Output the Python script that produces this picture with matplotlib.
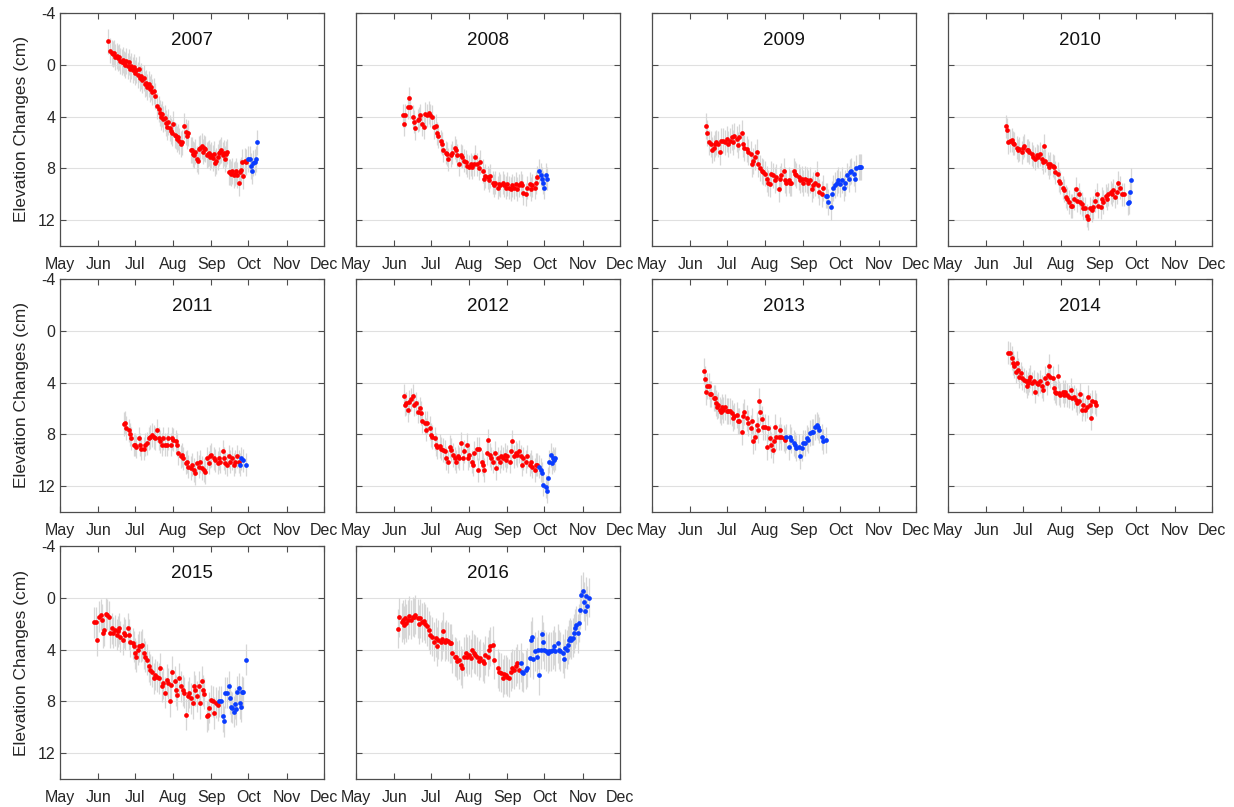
import matplotlib
matplotlib.use("Agg")
import matplotlib.pyplot as plt
import numpy as np

plt.rcParams["font.family"] = ["Liberation Sans", "DejaVu Sans"]
plt.rcParams["axes.unicode_minus"] = False

# Days are counted from 1 May (day 0); values are elevation change in cm
month_days = [0, 31, 61, 92, 123, 153, 184, 214]
month_labels = ["May", "Jun", "Jul", "Aug", "Sep", "Oct", "Nov", "Dec"]
y_ticks = [-4, 0, 4, 8, 12]

# --- 2007 ---
d2007_r = [39, 41, 42, 43, 44, 45, 46, 47, 48, 49,
           50, 51, 52, 53, 54, 55, 56, 57, 58, 59,
           60, 61, 62, 63, 64, 65, 66, 67, 68, 69,
           70, 71, 72, 73, 74, 75, 76, 77, 79, 80,
           81, 82, 83, 84, 85, 86, 87, 88, 89, 90,
           91, 92, 93, 94, 95, 96, 97, 98, 99, 101,
           102, 103, 104, 106, 107, 108, 109, 110, 111, 112,
           113, 114, 115, 116, 117, 118, 119, 120, 121, 122,
           123, 124, 125, 126, 127, 128, 129, 130, 131, 132,
           133, 134, 135, 136, 137, 138, 139, 140, 141, 142,
           143, 144, 145, 146, 147, 148, 149, 150, 151]
v2007_r = [-1.8, -1.1, -0.9, -0.8, -0.9, -0.6, -0.7, -0.5, -0.6, -0.3,
           -0.2, -0.4, -0.1, 0.0, -0.3, 0.1, -0.2, 0.3, 0.1, 0.4,
           0.2, 0.6, 0.4, 0.8, 0.3, 1.0, 0.9, 1.2, 1.0, 1.5,
           1.4, 1.7, 1.5, 1.9, 1.7, 2.1, 2.0, 2.4, 3.2, 3.4,
           3.7, 4.0, 3.8, 4.2, 4.1, 4.5, 4.8, 4.4, 4.9, 5.1,
           5.3, 4.6, 5.4, 5.5, 5.7, 5.6, 5.9, 6.1, 6.0, 4.7,
           5.2, 5.5, 5.3, 6.6, 6.6, 6.9, 7.0, 6.7, 7.3, 7.4,
           6.5, 6.4, 6.3, 6.7, 6.4, 6.5, 7.0, 6.9, 6.8, 7.1,
           7.0, 7.2, 6.9, 7.6, 7.4, 7.1, 6.8, 6.7, 6.6, 7.0,
           6.8, 7.3, 6.9, 6.7, 8.3, 8.3, 8.4, 8.2, 8.5, 8.4,
           8.2, 8.5, 9.1, 8.3, 8.1, 7.5, 8.6, 7.4, 7.5]
d2007_b = [153, 154, 155, 156, 157, 158, 159, 160]
v2007_b = [7.3, 7.3, 7.8, 8.2, 7.6, 7.5, 7.3, 6.0]
e2007 = 1.0

# --- 2008 ---
d2008_r = [38, 39, 40, 42, 43, 44, 46, 47, 48, 50,
           51, 52, 54, 55, 56, 58, 59, 60, 62, 63,
           65, 66, 67, 69, 70, 71, 73, 74, 75, 77,
           78, 80, 81, 82, 84, 85, 86, 88, 89, 90,
           92, 93, 94, 96, 97, 98, 100, 101, 103, 104,
           105, 107, 108, 109, 111, 112, 113, 115, 116, 117,
           119, 120, 122, 123, 124, 126, 127, 128, 130, 131,
           132, 134, 135, 136, 138, 139, 141, 142, 143, 145,
           146, 147]
v2008_r = [3.9, 4.6, 3.9, 3.3, 2.6, 3.3, 4.0, 4.4, 4.9, 4.3,
           4.2, 3.9, 4.6, 4.8, 3.8, 3.9, 3.7, 3.9, 4.0, 4.8,
           4.7, 5.3, 5.5, 5.9, 6.1, 6.6, 6.8, 6.9, 7.3, 7.0,
           6.8, 6.4, 6.6, 7.0, 7.7, 7.0, 7.1, 7.4, 7.5, 7.8,
           7.9, 7.7, 7.9, 7.7, 7.1, 7.7, 8.0, 7.5, 8.2, 8.8,
           8.6, 8.7, 8.9, 8.6, 9.1, 9.3, 9.1, 9.5, 9.2, 9.3,
           9.1, 9.3, 9.5, 9.2, 9.5, 9.6, 9.3, 9.5, 9.2, 9.6,
           9.3, 9.1, 9.3, 9.9, 10.0, 9.5, 9.2, 9.6, 9.3, 9.5,
           9.1, 8.7]
d2008_b = [149, 150, 151, 152, 153, 154, 155]
v2008_b = [8.2, 8.5, 8.8, 9.1, 9.5, 8.5, 8.8]
e2008 = 0.9

# --- 2009 ---
d2009_r = [44, 45, 46, 48, 49, 50, 51, 52, 54, 55,
           56, 58, 59, 61, 62, 63, 65, 66, 67, 69,
           70, 71, 73, 74, 75, 77, 78, 80, 81, 82,
           84, 85, 86, 88, 89, 90, 92, 93, 94, 96,
           97, 98, 100, 101, 103, 104, 105, 107, 108, 109,
           111, 112, 113, 115, 116, 117, 119, 120, 122, 123,
           124, 126, 127, 128, 130, 131, 132, 134, 135, 136,
           138, 139]
v2009_r = [4.7, 5.3, 6.0, 6.1, 6.6, 6.4, 6.1, 6.0, 6.1, 6.75,
           5.85, 5.85, 6.0, 5.7, 6.1, 5.85, 5.6, 6.0, 5.5, 5.7,
           6.2, 5.6, 5.3, 6.1, 6.4, 6.5, 6.75, 6.9, 7.7, 7.4,
           7.1, 6.75, 7.7, 8.0, 8.2, 8.3, 8.4, 8.8, 9.1, 9.2,
           8.4, 8.55, 8.9, 8.7, 9.6, 8.8, 8.55, 8.2, 8.9, 9.1,
           8.9, 9.1, 9.1, 8.2, 8.4, 8.55, 8.7, 8.9, 8.8, 9.1,
           8.8, 8.9, 9.1, 8.9, 9.6, 9.3, 9.1, 8.4, 9.3, 9.85,
           10.0, 9.5]
d2009_b = [141, 142, 143, 145, 146, 147, 149, 150, 151, 153,
           154, 156, 157, 158, 160, 161, 162, 164, 165, 166,
           168, 169, 170]
v2009_b = [10.1, 10.1, 10.6, 11.0, 10.0, 9.5, 9.3, 9.1, 8.9, 9.2,
           8.9, 9.5, 9.1, 8.55, 8.8, 8.3, 8.2, 8.4, 8.8, 8.0,
           7.9, 7.9, 7.9]
e2009 = 1.0

# --- 2010 ---
d2010_r = [47, 48, 49, 50, 52, 53, 54, 56, 57, 58,
           60, 61, 62, 64, 65, 66, 68, 69, 71, 72,
           73, 75, 76, 77, 78, 79, 81, 82, 83, 85,
           86, 87, 89, 90, 91, 93, 94, 96, 97, 98,
           100, 101, 102, 104, 105, 106, 107, 109, 110, 111,
           113, 114, 115, 117, 118, 119, 121, 122, 124, 125,
           126, 128, 129, 130, 132, 133, 134, 136, 137, 138,
           140, 141, 143]
v2010_r = [4.75, 5.0, 6.0, 5.85, 5.8, 6.05, 6.1, 6.4, 6.6, 6.5,
           6.75, 6.4, 6.25, 6.6, 6.6, 6.75, 6.9, 7.1, 7.25, 7.0,
           7.1, 6.9, 7.25, 7.5, 6.25, 7.4, 7.65, 7.9, 7.65, 7.8,
           7.9, 8.3, 8.4, 8.95, 9.1, 9.5, 9.7, 10.2, 10.35, 10.6,
           10.9, 10.9, 10.35, 9.6, 10.5, 10.0, 10.6, 10.75, 11.1, 11.1,
           11.65, 11.9, 11.1, 11.25, 11.0, 10.5, 10.0, 10.9, 11.0, 10.35,
           10.6, 10.1, 10.35, 10.0, 9.85, 10.0, 9.7, 10.2, 9.85, 9.1,
           9.5, 10.0, 10.0]
d2010_b = [146, 147, 148, 149]
v2010_b = [10.7, 10.6, 9.8, 8.9]
e2010 = 0.9

# --- 2011 ---
d2011_r = [52, 53, 54, 56, 57, 58, 60, 61, 62, 64,
           65, 66, 68, 69, 71, 72, 73, 75, 76, 77,
           79, 80, 81, 83, 84, 85, 87, 88, 90, 91,
           92, 94, 95, 96, 98, 99, 100, 102, 103, 104,
           106, 107, 109, 110, 111, 113, 114, 115, 117, 118,
           119, 121, 122, 123, 125, 126, 128, 129, 130, 132,
           133, 134, 136, 137, 138, 140, 141, 142, 144, 145]
v2011_r = [7.2, 7.1, 7.5, 7.7, 8.0, 8.3, 8.8, 8.8, 8.95, 8.3,
           8.8, 9.1, 9.1, 8.8, 8.7, 8.3, 8.2, 8.05, 8.2, 8.3,
           7.7, 8.3, 8.55, 8.8, 8.3, 8.8, 8.8, 8.3, 8.8, 8.3,
           8.4, 8.55, 8.8, 9.45, 9.7, 9.6, 9.85, 10.2, 10.1, 10.5,
           10.6, 10.35, 10.75, 11.0, 10.2, 10.5, 10.1, 10.6, 10.75, 10.9,
           9.85, 10.2, 9.7, 9.6, 9.85, 10.0, 10.2, 9.85, 10.1, 9.3,
           9.85, 10.2, 10.35, 9.7, 10.1, 9.85, 10.35, 10.1, 9.7, 10.1]
d2011_b = [146, 147, 149, 151]
v2011_b = [10.35, 9.85, 10.0, 10.35]
e2011 = 0.9

# --- 2012 ---
d2012_r = [39, 40, 41, 42, 43, 45, 46, 47, 49, 50,
           52, 53, 54, 56, 57, 58, 60, 61, 62, 64,
           65, 66, 68, 69, 71, 72, 73, 75, 76, 77,
           79, 80, 81, 83, 84, 85, 87, 88, 90, 91,
           92, 94, 95, 96, 98, 99, 100, 102, 103, 104,
           106, 107, 109, 110, 111, 113, 114, 115, 117, 118,
           119, 121, 122, 123, 125, 126, 127, 128, 130, 131,
           132, 134, 135, 136, 138, 139, 141, 142, 143, 145,
           146, 147]
v2012_r = [5.0, 5.7, 5.6, 6.15, 5.5, 5.3, 5.0, 5.7, 5.6, 6.25,
           6.0, 6.35, 7.0, 7.1, 7.65, 7.1, 7.5, 8.05, 8.2, 8.3,
           8.8, 9.0, 8.9, 9.1, 9.2, 9.3, 9.85, 10.1, 8.95, 9.2,
           9.6, 9.85, 10.1, 9.7, 9.85, 8.7, 9.85, 9.3, 8.8, 9.85,
           9.6, 10.1, 10.35, 9.45, 9.1, 10.75, 9.1, 10.1, 10.35, 10.75,
           9.45, 8.45, 9.6, 9.85, 10.1, 9.45, 10.6, 9.85, 10.1, 9.7,
           9.85, 9.6, 10.0, 9.7, 10.1, 9.3, 8.55, 9.7, 9.45, 9.6,
           9.3, 9.7, 10.35, 9.85, 10.1, 9.7, 10.35, 10.1, 10.5, 10.75,
           10.35, 10.35]
d2012_b = [149, 150, 151, 152, 154, 155, 156, 157, 158, 159, 160, 161, 162]
v2012_b = [10.5, 10.75, 11.0, 11.9, 12.05, 12.4, 11.4, 10.1, 9.6, 10.2,
           9.85, 10.0, 9.85]
e2012 = 0.9

# --- 2013 ---
d2013_r = [42, 43, 44, 45, 46, 47, 48, 50, 51, 52,
           53, 54, 55, 56, 57, 58, 59, 61, 62, 63,
           65, 66, 67, 69, 70, 71, 73, 74, 75, 77,
           78, 80, 81, 82, 84, 85, 86, 87, 88, 89,
           90, 92, 93, 94, 96, 97, 98, 99, 100, 101,
           103, 104, 105, 107, 108]
v2013_r = [3.1, 3.75, 4.7, 4.25, 4.25, 4.9, 4.85, 5.2, 5.2, 5.6,
           5.85, 5.7, 6.1, 6.25, 5.85, 6.1, 5.9, 6.2, 6.2, 6.2,
           6.35, 6.75, 6.6, 6.5, 7.0, 7.0, 7.8, 6.6, 6.25, 6.75,
           7.15, 7.5, 7.0, 8.55, 8.2, 7.25, 7.65, 5.45, 6.25, 6.8,
           7.4, 7.4, 8.95, 7.5, 8.3, 8.8, 9.2, 8.55, 7.4, 8.2,
           8.2, 7.65, 8.2, 8.3, 8.45]
d2013_b = [109, 111, 112, 113, 115, 116, 117, 119, 120, 122,
           123, 124, 126, 127, 128, 130, 131, 132, 134, 135,
           136, 138, 139, 141]
v2013_b = [8.2, 8.95, 8.2, 8.45, 8.7, 8.8, 9.05, 8.95, 9.7, 9.05,
           8.7, 8.7, 8.3, 8.45, 7.9, 7.8, 7.8, 7.4, 7.25, 7.4,
           7.65, 8.2, 8.55, 8.45]
e2013 = 1.0

# --- 2014 ---
d2014_r = [49, 50, 52, 53, 54, 55, 56, 57, 58, 59,
           60, 62, 63, 64, 65, 66, 67, 68, 70, 71,
           72, 73, 75, 76, 77, 79, 80, 81, 82, 83,
           85, 86, 87, 88, 89, 90, 91, 93, 94, 95,
           97, 98, 100, 101, 102, 104, 105, 106, 107, 109,
           110, 111, 113, 114, 115, 116, 117, 119, 120]
v2014_r = [1.7, 1.75, 2.1, 2.5, 2.75, 3.15, 2.5, 3.0, 3.55, 3.3,
           3.65, 3.8, 3.9, 4.3, 4.05, 3.8, 3.55, 4.05, 3.9, 4.7,
           4.05, 4.15, 3.9, 4.3, 4.55, 3.65, 4.05, 3.4, 2.7, 3.55,
           3.65, 4.45, 4.7, 4.8, 3.5, 4.8, 4.95, 4.7, 4.95, 4.7,
           4.95, 5.1, 4.55, 5.2, 5.1, 5.35, 5.6, 5.45, 4.9, 6.1,
           5.7, 6.1, 5.85, 5.1, 5.7, 6.75, 5.45, 5.5, 5.7]
d2014_b = []
v2014_b = []
e2014 = 0.9

# --- 2015 ---
d2015_r = [28, 29, 30, 32, 33, 34, 35, 36, 37, 38,
           40, 41, 42, 43, 45, 46, 47, 48, 49, 51,
           52, 53, 55, 56, 57, 59, 60, 61, 62, 63,
           64, 66, 67, 68, 69, 71, 72, 73, 75, 76,
           77, 79, 80, 81, 83, 84, 85, 87, 88, 89,
           90, 91, 93, 94, 95, 97, 98, 100, 101, 102,
           104, 105, 106, 108, 109, 110, 111, 113, 114, 115,
           116, 117, 119, 120, 121, 123, 124, 125, 127, 128]
v2015_r = [1.9, 1.9, 3.3, 1.45, 1.3, 1.7, 2.7, 2.5, 1.25, 1.3,
           1.45, 2.7, 2.35, 2.7, 2.5, 2.85, 2.6, 2.35, 3.0, 3.25,
           2.7, 2.85, 2.35, 2.85, 3.4, 3.5, 3.75, 4.3, 4.55, 4.0,
           3.75, 3.75, 3.65, 4.3, 4.55, 4.8, 5.3, 5.55, 5.7, 6.2,
           5.95, 6.1, 6.2, 5.45, 6.85, 6.6, 7.35, 6.35, 6.6, 8.0,
           6.7, 5.7, 6.45, 7.15, 7.5, 6.2, 6.85, 7.15, 7.35, 9.05,
           7.6, 7.35, 7.75, 8.15, 6.85, 7.15, 7.6, 6.85, 8.15, 6.45,
           7.15, 7.4, 9.15, 9.05, 8.5, 7.9, 8.0, 8.9, 8.1, 8.3]
d2015_b = [129, 131, 132, 133, 134, 136, 137, 138, 139, 140,
           141, 142, 143, 144, 145, 146, 147, 148, 149, 151]
v2015_b = [8.0, 8.0, 9.15, 9.55, 7.35, 7.35, 6.85, 7.75, 8.4, 8.5,
           8.8, 8.2, 8.6, 7.25, 7.0, 8.15, 8.4, 7.25, 7.3, 4.8]
e2015 = 1.2

# --- 2016 ---
d2016_r = [34, 35, 37, 38, 39, 40, 41, 42, 43, 45,
           46, 47, 48, 50, 51, 52, 54, 55, 56, 58,
           59, 60, 62, 63, 65, 66, 67, 69, 70, 71,
           72, 73, 75, 76, 77, 78, 80, 81, 82, 84,
           85, 86, 88, 89, 90, 92, 93, 94, 96, 97,
           98, 100, 101, 103, 104, 105, 107, 108, 109, 111,
           112, 115, 116, 118, 119, 120, 122, 123, 124, 126,
           127, 128, 130, 131, 132]
v2016_r = [2.4, 1.5, 1.9, 1.7, 2.1, 1.6, 1.95, 1.7, 1.4, 1.7,
           1.45, 1.5, 1.3, 1.6, 2.05, 1.6, 1.9, 1.8, 2.0, 2.2,
           2.5, 2.85, 3.0, 3.4, 3.1, 3.75, 3.25, 3.4, 3.2, 2.6,
           3.4, 3.25, 3.35, 3.5, 3.5, 4.3, 4.55, 4.6, 4.85, 4.8,
           5.2, 5.45, 4.55, 4.3, 4.55, 4.4, 4.65, 4.0, 4.3, 4.4,
           4.55, 4.85, 4.65, 4.9, 5.05, 4.45, 4.55, 4.0, 3.75, 3.65,
           4.8, 5.45, 5.7, 5.8, 6.2, 5.9, 5.95, 6.1, 6.2, 5.7,
           5.45, 5.55, 5.3, 5.05, 5.55]
d2016_b = [134, 135, 136, 138, 139, 141, 142, 143, 144, 145,
           147, 148, 149, 150, 151, 152, 153, 154, 156, 157,
           158, 160, 161, 162, 164, 165, 166, 168, 169, 170,
           171, 172, 173, 174, 175, 176, 177, 178, 179, 180,
           181, 182, 183, 184, 185, 186, 187, 188, 189]
v2016_b = [5.0, 5.7, 5.8, 5.55, 5.4, 4.65, 3.3, 3.0, 4.75, 4.15,
           4.55, 4.0, 6.0, 4.0, 2.8, 3.4, 4.0, 4.15, 4.3, 4.15,
           4.15, 4.0, 3.7, 4.15, 3.5, 4.0, 4.15, 4.3, 4.7, 3.9,
           4.0, 3.65, 3.25, 3.1, 3.25, 3.1, 2.75, 2.35, 2.1, 2.75,
           1.95, 0.95, -0.25, -0.5, 0.3, 1.0, -0.1, 0.6, 0.0]
e2016 = 1.5

years = [2007, 2008, 2009, 2010, 2011, 2012, 2013, 2014, 2015, 2016]
panels = [
    (d2007_r, v2007_r, d2007_b, v2007_b, e2007),
    (d2008_r, v2008_r, d2008_b, v2008_b, e2008),
    (d2009_r, v2009_r, d2009_b, v2009_b, e2009),
    (d2010_r, v2010_r, d2010_b, v2010_b, e2010),
    (d2011_r, v2011_r, d2011_b, v2011_b, e2011),
    (d2012_r, v2012_r, d2012_b, v2012_b, e2012),
    (d2013_r, v2013_r, d2013_b, v2013_b, e2013),
    (d2014_r, v2014_r, d2014_b, v2014_b, e2014),
    (d2015_r, v2015_r, d2015_b, v2015_b, e2015),
    (d2016_r, v2016_r, d2016_b, v2016_b, e2016),
]

W, H = 1234, 807
fig = plt.figure(figsize=(W / 100, H / 100), dpi=100)

col_left = [60, 356, 652, 948]
row_top = [13, 279, 546]
ax_w, ax_h = 263.5, 233

edge = "#4d4d4d"
red = "#ff0000"
blue = "#0a3cff"

for i, (year, (dr, vr, db, vb, err)) in enumerate(zip(years, panels)):
    r, c = divmod(i, 4)
    ax = fig.add_axes([col_left[c] / W, 1 - (row_top[r] + ax_h) / H, ax_w / W, ax_h / H])

    # grey error bars first, then the dots on top
    for d, v in ((dr, vr), (db, vb)):
        if not d:
            continue
        d = np.array(d)
        v = np.array(v)
        ax.vlines(d, v - err, v + err, color="#d6d6d6", lw=0.9, zorder=2)
    for d, v, col in ((dr, vr, red), (db, vb, blue)):
        if not d:
            continue
        ax.plot(d, v, "o", color=col, ms=3.4, mew=0, zorder=3)

    ax.set_xlim(month_days[0], month_days[-1])
    ax.set_ylim(14, -4)
    ax.set_xticks(month_days)
    ax.set_xticklabels(month_labels)
    ax.set_yticks(y_ticks)
    if c == 0:
        ax.set_yticklabels([str(t) for t in y_ticks])
        ax.set_ylabel("Elevation Changes (cm)", fontsize=12.5, color="#262626", labelpad=6)
    else:
        ax.set_yticklabels([])
    ax.grid(axis="y", color="#e0e0e0", lw=0.8, zorder=0)
    ax.set_axisbelow(True)
    ax.tick_params(direction="in", top=True, right=True, length=4, width=0.8,
                   color=edge, labelsize=11.5, labelcolor="#262626")
    ax.tick_params(axis="x", pad=8)
    for s in ax.spines.values():
        s.set_color(edge)
        s.set_linewidth(0.9)
    ax.text(0.5, 0.88, str(year), transform=ax.transAxes, ha="center", va="center",
            fontsize=13.5, color="#111111")

fig.savefig("out.png", dpi=100, facecolor="white")
